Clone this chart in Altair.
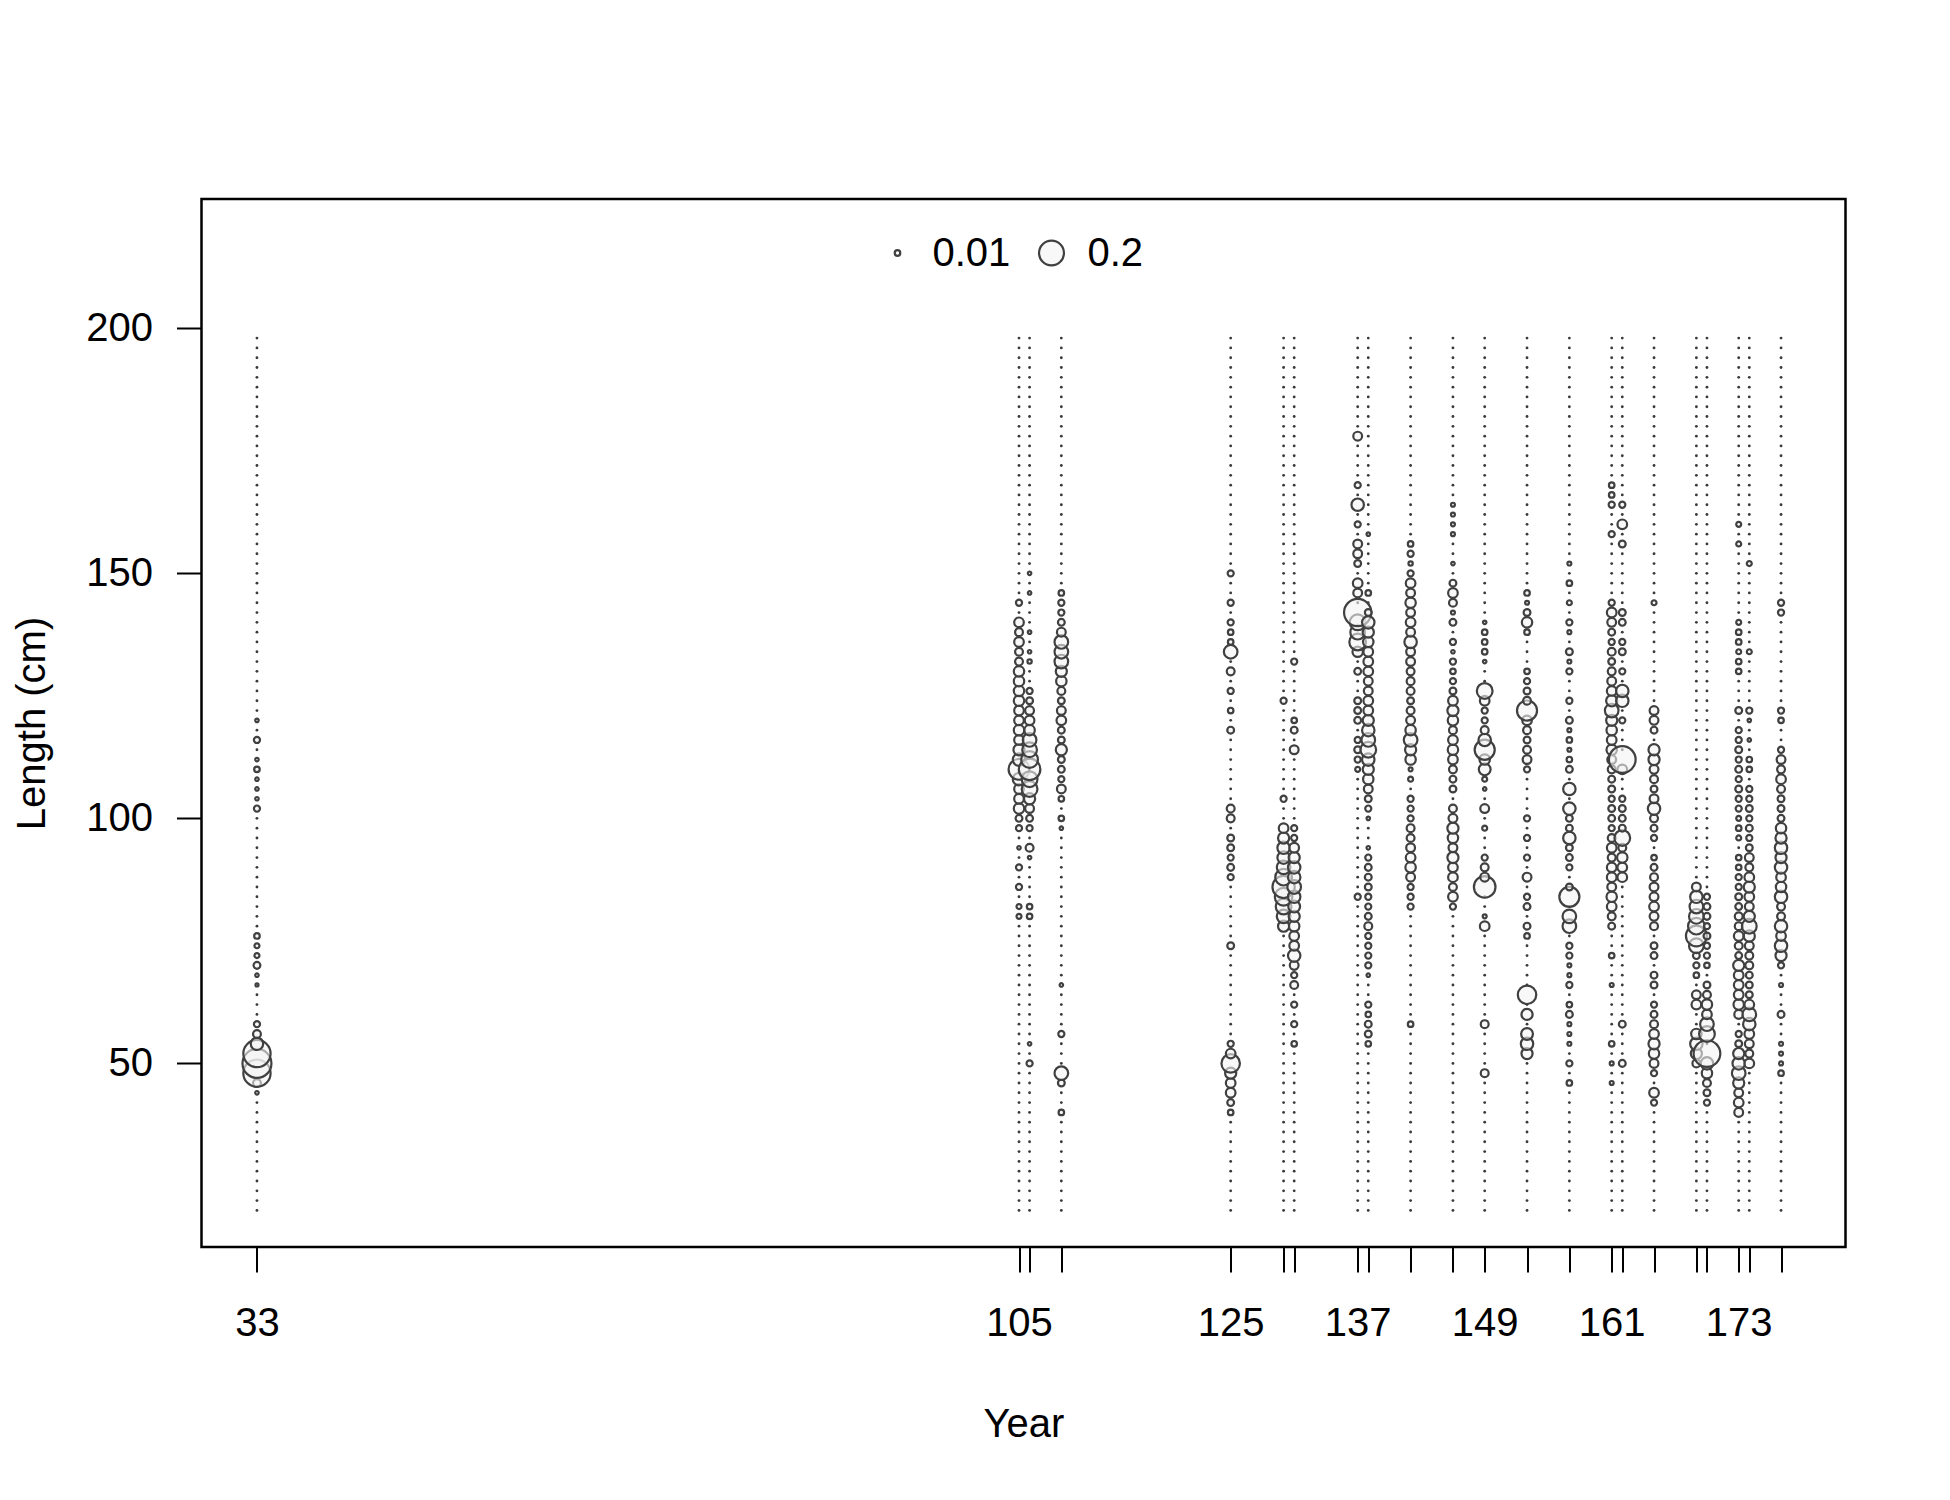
import altair as alt
import pandas as pd

# ---- data ----
years = [33, 105, 106, 109, 125, 130, 131, 137, 138, 142, 146, 149, 153,
         157, 161, 162, 165, 169, 170, 173, 174, 177]
labelled_years = [33, 105, 125, 137, 149, 161, 173]
bins = list(range(20, 200, 2))          # length bins (cm)

c033 = [(120,.004),(116,.012),(112,.004),(110,.01),(108,.004),(106,.004),(104,.004),(102,.012),
        (76,.01),(74,.008),(72,.008),(70,.015),(68,.004),(66,.003),(58,.012),(56,.02),(54,.05),
        (52,.24),(50,.27),(48,.24),(46,.02),(44,.004)]
c105 = [(144,.012),(140,.03),(138,.02),(136,.03),(134,.02),(132,.02),(130,.035),(128,.035),
        (126,.035),(124,.035),(122,.03),(120,.03),(118,.035),(116,.03),(114,.04),(112,.05),
        (110,.14),(108,.05),(106,.03),(104,.03),(102,.035),(100,.015),(98,.012),(94,.004),
        (90,.012),(86,.012),(82,.008),(80,.008)]
c106 = [(150,.004),(146,.004),(138,.004),(134,.004),(132,.006),(126,.012),(124,.015),(122,.025),
        (120,.03),(118,.035),(116,.06),(114,.07),(112,.09),(110,.15),(108,.08),(106,.08),
        (104,.04),(102,.025),(100,.015),(98,.012),(94,.02),(92,.004),(82,.01),(80,.01),
        (54,.004),(50,.012)]
c109 = [(146,.01),(144,.012),(142,.012),(140,.015),(138,.025),(136,.06),(134,.06),(132,.06),
        (130,.04),(128,.035),(126,.02),(124,.015),(122,.025),(120,.03),(118,.015),(116,.015),
        (114,.04),(112,.015),(110,.015),(108,.012),(106,.025),(104,.01),(100,.01),(98,.004),
        (66,.004),(56,.012),(48,.06),(46,.015),(40,.01)]
c125 = [(150,.012),(144,.012),(140,.012),(138,.01),(136,.01),(134,.06),(130,.02),(126,.012),
        (122,.01),(118,.015),(102,.02),(100,.02),(96,.015),(94,.015),(92,.012),(90,.015),
        (88,.012),(74,.015),(54,.012),(52,.03),(50,.11),(48,.04),(46,.03),(44,.03),(42,.015),(40,.01)]
c130 = [(124,.012),(104,.012),(98,.03),(96,.04),(94,.05),(92,.05),(90,.06),(88,.09),(86,.16),
        (84,.1),(82,.08),(80,.06),(78,.04)]
c131 = [(132,.012),(120,.01),(118,.015),(114,.025),(98,.012),(96,.012),(94,.03),(92,.04),
        (90,.05),(88,.05),(86,.06),(84,.05),(82,.045),(80,.04),(78,.035),(76,.03),(74,.03),
        (72,.05),(70,.025),(68,.012),(66,.02),(62,.012),(58,.012),(54,.01)]
c137 = [(178,.025),(168,.012),(164,.05),(160,.012),(156,.025),(154,.025),(152,.015),(148,.03),
        (146,.025),(142,.24),(140,.08),(138,.07),(136,.09),(134,.035),(130,.015),(124,.015),
        (122,.015),(120,.015),(116,.012),(114,.015),(112,.012),(110,.008),(84,.012)]
c138 = [(158,.004),(146,.01),(142,.015),(140,.05),(138,.04),(136,.035),(134,.03),(132,.03),
        (130,.03),(128,.025),(126,.025),(124,.03),(122,.03),(120,.04),(118,.05),(116,.06),
        (114,.08),(112,.05),(110,.04),(108,.035),(106,.025),(104,.015),(102,.012),(100,.004),
        (94,.004),(92,.012),(90,.015),(88,.015),(86,.015),(84,.012),(82,.012),(80,.015),
        (78,.02),(76,.012),(74,.012),(72,.012),(70,.012),(68,.004),(62,.012),(60,.01),
        (58,.015),(56,.015),(54,.01)]
c142 = [(156,.01),(154,.012),(152,.006),(150,.012),(148,.03),(146,.025),(144,.035),(142,.025),
        (140,.03),(138,.025),(136,.05),(134,.025),(132,.025),(130,.02),(128,.02),(126,.02),
        (124,.015),(122,.02),(120,.025),(118,.035),(116,.06),(114,.04),(112,.035),(110,.005),
        (108,.008),(104,.012),(102,.012),(100,.012),(98,.02),(96,.02),(94,.025),(92,.03),
        (90,.035),(88,.025),(86,.012),(84,.012),(82,.012),(58,.01)]
c146 = [(164,.005),(162,.005),(160,.005),(158,.005),(152,.004),(148,.015),(146,.03),(144,.02),
        (142,.005),(140,.015),(136,.012),(134,.004),(132,.012),(130,.01),(128,.012),(126,.015),
        (124,.03),(122,.04),(120,.035),(118,.02),(116,.03),(114,.035),(112,.03),(110,.02),
        (108,.015),(106,.015),(102,.02),(100,.025),(98,.04),(96,.035),(94,.025),(92,.04),
        (90,.03),(88,.03),(86,.02),(84,.03),(82,.012)]
c149 = [(140,.004),(138,.01),(136,.01),(134,.01),(132,.004),(126,.08),(124,.03),(122,.012),
        (120,.012),(118,.02),(116,.05),(114,.13),(112,.035),(110,.045),(108,.008),(106,.004),
        (102,.025),(98,.008),(92,.012),(90,.02),(88,.025),(86,.15),(80,.005),(78,.03),
        (58,.02),(48,.02)]
c153 = [(146,.01),(144,.005),(142,.015),(140,.035),(138,.01),(130,.01),(128,.012),(126,.015),
        (124,.02),(122,.13),(120,.03),(118,.02),(116,.015),(114,.02),(112,.025),(110,.012),
        (100,.012),(96,.012),(92,.012),(88,.025),(84,.012),(82,.015),(78,.015),(76,.01),
        (64,.11),(60,.04),(56,.045),(54,.05),(52,.04)]
c157 = [(152,.005),(148,.01),(144,.008),(140,.012),(138,.005),(134,.015),(132,.005),(130,.012),
        (124,.012),(120,.015),(118,.005),(116,.01),(114,.005),(112,.01),(110,.015),(106,.05),
        (102,.05),(100,.015),(98,.015),(96,.05),(94,.015),(92,.015),(90,.012),(86,.015),
        (84,.13),(80,.06),(78,.06),(74,.012),(72,.012),(70,.005),(68,.005),(66,.012),
        (62,.01),(60,.015),(58,.005),(56,.005),(54,.005),(50,.012),(46,.01)]
c161 = [(168,.01),(166,.01),(164,.012),(158,.012),(144,.012),(142,.03),(140,.025),(138,.015),
        (136,.012),(134,.02),(132,.015),(130,.02),(128,.025),(126,.03),(124,.04),(122,.06),
        (120,.04),(118,.035),(116,.03),(114,.035),(112,.025),(110,.02),(108,.015),(106,.015),
        (104,.012),(102,.015),(100,.015),(98,.012),(96,.02),(94,.03),(92,.02),(90,.03),
        (88,.03),(86,.025),(84,.035),(82,.03),(80,.02),(78,.015),(72,.01),(66,.005),
        (54,.01),(50,.005),(46,.005)]
c162 = [(164,.012),(160,.03),(156,.015),(142,.015),(140,.015),(136,.012),(134,.015),(130,.012),
        (126,.05),(124,.05),(120,.012),(112,.23),(110,.03),(104,.012),(102,.015),(100,.015),
        (98,.015),(96,.08),(94,.02),(92,.035),(90,.03),(88,.03),(58,.015),(50,.015)]
c165 = [(144,.008),(122,.025),(120,.025),(118,.015),(114,.04),(112,.04),(110,.025),(108,.02),
        (106,.015),(104,.025),(102,.05),(100,.02),(98,.015),(96,.012),(92,.01),(90,.015),
        (88,.02),(86,.025),(84,.025),(82,.03),(80,.025),(78,.02),(74,.015),(72,.015),
        (68,.015),(66,.015),(62,.012),(60,.015),(58,.02),(56,.03),(54,.04),(52,.035),
        (50,.025),(48,.012),(44,.03),(42,.012)]
c169 = [(86,.025),(84,.05),(82,.06),(80,.07),(78,.09),(76,.14),(74,.07),(72,.015),(70,.012),
        (68,.01),(64,.025),(62,.03),(56,.035),(54,.05),(52,.04),(50,.02)]
c170 = [(84,.012),(82,.015),(80,.015),(78,.012),(76,.015),(74,.012),(72,.012),(70,.01),
        (66,.015),(64,.02),(62,.035),(60,.03),(58,.06),(56,.08),(52,.23),(50,.05),(48,.035),
        (46,.02),(44,.015),(42,.012)]
c173 = [(160,.008),(156,.008),(140,.008),(138,.01),(136,.01),(134,.008),(132,.01),(130,.01),
        (122,.015),(118,.012),(116,.012),(114,.015),(112,.012),(110,.015),(108,.012),(106,.015),
        (104,.012),(102,.012),(100,.008),(98,.01),(96,.008),(92,.01),(90,.01),(88,.012),
        (86,.012),(84,.015),(82,.015),(80,.02),(78,.02),(76,.03),(74,.02),(72,.015),(70,.04),
        (68,.03),(66,.03),(64,.03),(62,.035),(60,.025),(56,.012),(54,.015),(52,.04),(50,.05),
        (48,.06),(46,.04),(44,.025),(42,.03),(40,.025)]
c174 = [(152,.008),(134,.008),(122,.012),(120,.004),(116,.004),(112,.01),(110,.01),(106,.012),
        (104,.012),(102,.015),(100,.012),(98,.015),(96,.012),(94,.015),(92,.025),(90,.02),
        (88,.03),(86,.04),(84,.03),(82,.025),(80,.04),(78,.07),(76,.04),(74,.025),(72,.02),
        (70,.02),(68,.015),(66,.015),(64,.015),(62,.03),(60,.06),(58,.05),(56,.03),(54,.025),
        (52,.02),(50,.03)]
c177 = [(144,.012),(142,.012),(122,.012),(120,.01),(114,.012),(112,.025),(110,.02),(108,.03),
        (106,.02),(104,.015),(102,.015),(100,.015),(98,.035),(96,.04),(94,.05),(92,.04),
        (90,.05),(88,.03),(86,.035),(84,.05),(82,.02),(80,.02),(78,.05),(76,.03),(74,.05),
        (72,.04),(70,.012),(66,.005),(60,.015),(54,.005),(52,.005),(50,.005),(48,.01)]

comps = [c033, c105, c106, c109, c125, c130, c131, c137, c138, c142, c146, c149, c153,
         c157, c161, c162, c165, c169, c170, c173, c174, c177]

legend_values = [0.01, 0.2]

# ---- build table ----
rows = []
for yr, comp in zip(years, comps):
    d = dict(comp)
    for L in bins:
        rows.append({"year": yr, "len": L, "v": d.get(L, 0.0)})
df = pd.DataFrame(rows)

FONT = "Liberation Sans"
W, H = 1644, 1048
STROKE = "#404040"
SW = 2.2

xscale = alt.Scale(domain=[27.76, 183.09], nice=False, zero=False)
yscale = alt.Scale(domain=[12.53, 226.39], nice=False, zero=False)
sscale = alt.Scale(type="linear", domain=[0, 0.2], range=[0, 620], zero=True)

lab_expr = "indexof(" + str(labelled_years) + ", datum.value) >= 0 ? datum.label : ''"

xaxis = alt.Axis(values=years, labelExpr=lab_expr, tickSize=25, tickWidth=2, tickColor="black",
                 domain=False, grid=False, labelFont=FONT, labelFontSize=40, labelColor="black",
                 labelPadding=31, labelOverlap=False, labelFlush=False,
                 title="Year", titleFont=FONT, titleFontSize=40, titleFontWeight="normal",
                 titleColor="black", titleY=189, titleBaseline="alphabetic")
yaxis = alt.Axis(values=[50, 100, 150, 200], tickSize=25, tickWidth=2, tickColor="black",
                 domain=False, grid=False, labelFont=FONT, labelFontSize=40, labelColor="black",
                 labelPadding=24, labelAngle=0,
                 title="Length (cm)", titleFont=FONT, titleFontSize=40, titleFontWeight="normal",
                 titleColor="black", titleAngle=270, titleX=-157, titleY=H / 2,
                 titleAlign="center", titleBaseline="alphabetic")

base = alt.Chart(df)

zeros = base.transform_filter("datum.v == 0").mark_circle(
    size=8, color="#3a3a3a", opacity=1
).encode(
    x=alt.X("year:Q", scale=xscale, axis=xaxis),
    y=alt.Y("len:Q", scale=yscale, axis=yaxis),
)

bubble_style = dict(shape="circle", filled=True, fill="#f4f4f4", fillOpacity=0.6,
                    stroke=STROKE, strokeWidth=SW, opacity=1)

bubbles = base.transform_filter("datum.v > 0").mark_point(**bubble_style).encode(
    x=alt.X("year:Q", scale=xscale, axis=xaxis),
    y=alt.Y("len:Q", scale=yscale, axis=yaxis),
    size=alt.Size("v:Q", scale=sscale, legend=None),
)

leg_small = alt.Chart(pd.DataFrame({"v": [legend_values[0]]})).mark_point(**bubble_style).encode(
    x=alt.value(696), y=alt.value(54), size=alt.Size("v:Q", scale=sscale, legend=None))
leg_big = alt.Chart(pd.DataFrame({"v": [legend_values[1]]})).mark_point(**bubble_style).encode(
    x=alt.value(850), y=alt.value(54), size=alt.Size("v:Q", scale=sscale, legend=None))
leg_t1 = alt.Chart(pd.DataFrame({"t": [str(legend_values[0])]})).mark_text(
    align="left", baseline="middle", font=FONT, fontSize=40, color="black"
).encode(x=alt.value(731), y=alt.value(55), text="t:N")
leg_t2 = alt.Chart(pd.DataFrame({"t": [str(legend_values[1])]})).mark_text(
    align="left", baseline="middle", font=FONT, fontSize=40, color="black"
).encode(x=alt.value(886), y=alt.value(55), text="t:N")

chart = alt.layer(zeros, bubbles, leg_small, leg_big, leg_t1, leg_t2).properties(
    width=W, height=H,
    background="white",
    autosize=alt.AutoSizeParams(type="none"),
    padding={"left": 193.5, "top": 191, "right": 95, "bottom": 245},
).configure_view(
    stroke="black", strokeWidth=2.5
)

chart.save("out.html", embed_options={"renderer": "svg", "actions": False})
